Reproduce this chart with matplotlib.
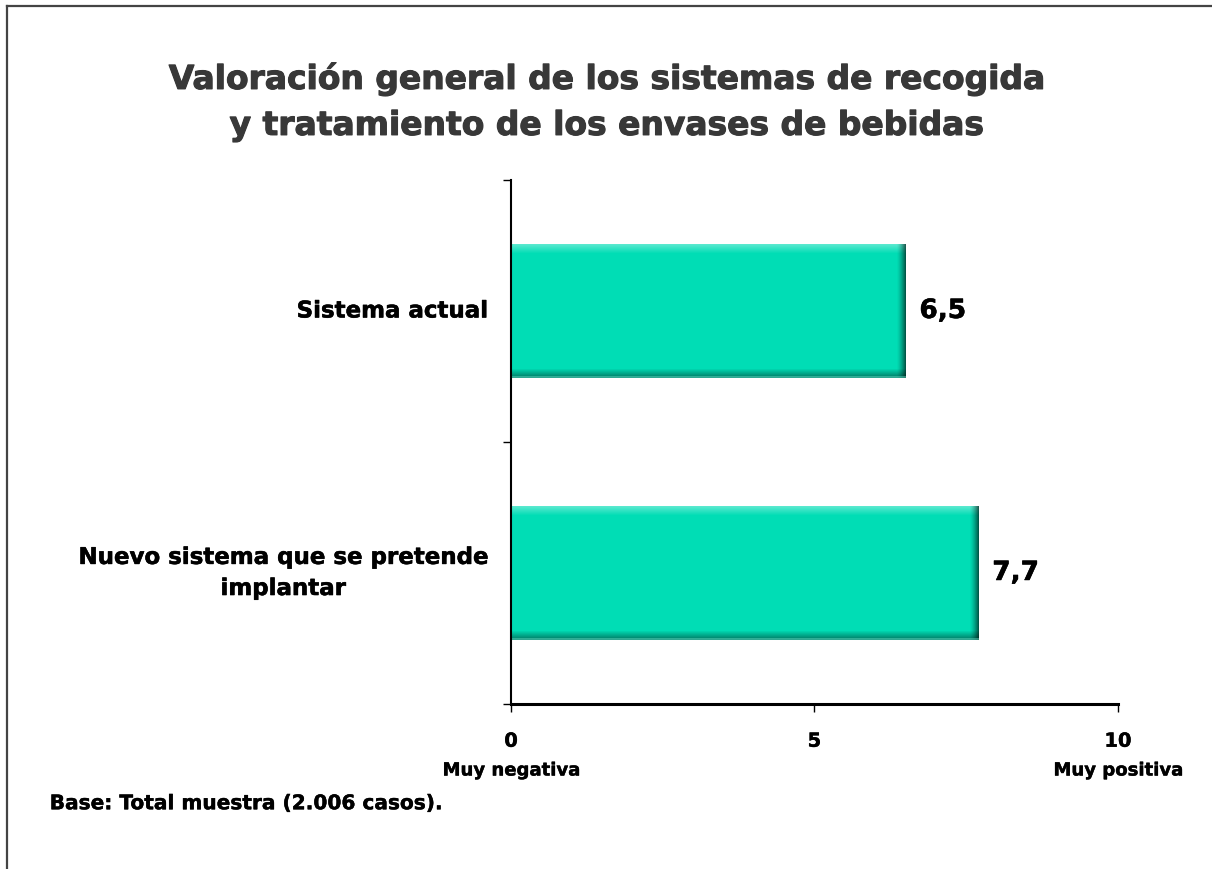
import numpy as np
import matplotlib
matplotlib.use("Agg")
import matplotlib.pyplot as plt
import matplotlib.patheffects as pe
from matplotlib.lines import Line2D
from matplotlib.colors import to_rgb

# data
categories = ["Sistema actual", "Nuevo sistema que se pretende\nimplantar"]
scores = [6.5, 7.7]
value_labels = ["6,5", "7,7"]
x_ticks = [0, 5, 10]
x_ends = ["Muy negativa", "Muy positiva"]

title = "Valoración general de los sistemas de recogida\ny tratamiento de los envases de bebidas"
note = "Base: Total muestra (2.006 casos)."

bar_color = "#00ddb5"
plt.rcParams["font.family"] = ["DejaVu Sans"]


def heavy(color="black", lw=0.4):
    return [pe.withStroke(linewidth=lw, foreground=color)]


def bevel_image(w_px, h_px, base):
    # simple bevel: light top edge, dark right/bottom edges
    base = np.array(to_rgb(base))
    img = np.ones((h_px, w_px, 3)) * base
    band = 9
    for i in range(band):
        k = 1 - i / band
        img[i, :] = img[i, :] * (1 - 0.35 * k) + 0.35 * k
    for i in range(band):
        k = (i + 1) / band
        img[h_px - band + i, :] *= (1 - 0.45 * k)
        img[:, w_px - band + i] *= (1 - 0.6 * k ** 1.5)
    img[-2:, :] = img[-2:, :] * 0.5 + np.array(to_rgb("#5fd8c0")) * 0.5
    return np.clip(img, 0, 1)


fig = plt.figure(figsize=(12.12, 8.7), dpi=100)
ax = fig.add_axes([0.4216, 0.1897, 0.5008, 0.6023])

ypos = np.arange(len(categories))[::-1]  # first category on top
bar_h = 0.51
bars = ax.barh(ypos, scores, height=bar_h, color=bar_color, zorder=2)

ax.set_xlim(0, 10)
ax.set_ylim(-0.5, len(categories) - 0.5)

# bevel overlay for each bar, sized from the bar patch itself
fig.canvas.draw()
for b in bars:
    x0, y0 = b.get_x(), b.get_y()
    w, h = b.get_width(), b.get_height()
    bb = b.get_window_extent()
    img = bevel_image(max(int(bb.width), 10), max(int(bb.height), 10), bar_color)
    ax.imshow(img, extent=(x0, x0 + w, y0, y0 + h), origin="upper",
              aspect="auto", zorder=3, interpolation="nearest")

ax.set_xlim(0, 10)
ax.set_ylim(-0.5, len(categories) - 0.5)

for y, v, lab in zip(ypos, scores, value_labels):
    ax.annotate(lab, (v, y), xytext=(10, 0), textcoords="offset points",
                ha="left", va="center", fontsize=19, fontweight="bold",
                path_effects=heavy())

# axes styling
for s in ["top", "right"]:
    ax.spines[s].set_visible(False)
ax.spines["left"].set_linewidth(1.5)
ax.spines["bottom"].set_linewidth(2.2)
ax.spines["left"].set_zorder(4)

ax.set_yticks(np.arange(-0.5, len(categories), 1.0))
ax.set_yticklabels([])
ax.tick_params(axis="y", length=6, width=1, direction="out")
ax.set_xticks(x_ticks)
ax.set_xticklabels([str(t) for t in x_ticks], fontsize=14, fontweight="bold")
for t in ax.get_xticklabels():
    t.set_path_effects(heavy(lw=0.3))
ax.tick_params(axis="x", length=6, width=1, direction="out", pad=14)

for y, cat in zip(ypos, categories):
    ax.annotate(cat, (0, y), xytext=(-17, 0), textcoords="offset points",
                ha="right", va="center", fontsize=16.5, fontweight="bold",
                multialignment="center", linespacing=1.45,
                path_effects=heavy())

for x, lab in zip([x_ticks[0], x_ticks[-1]], x_ends):
    ax.text(x, -0.127, lab, transform=ax.get_xaxis_transform(),
            ha="center", va="center", fontsize=13, fontweight="bold",
            path_effects=heavy(lw=0.3))

fig.text(0.5, 0.882, title, ha="center", va="center", fontsize=23.7,
         fontweight="bold", color="#383838", linespacing=1.5,
         path_effects=heavy("#383838", 0.8))
fig.text(0.041, 0.075, note, ha="left", va="center", fontsize=14.5,
         fontweight="bold", path_effects=heavy(lw=0.3))

# partial frame around the slide (top and left only)
fig.add_artist(Line2D([0.0055, 1.0], [0.9925, 0.9925], transform=fig.transFigure,
                      color="#444444", lw=1.6))
fig.add_artist(Line2D([0.0055, 0.0055], [0.0, 0.9925], transform=fig.transFigure,
                      color="#444444", lw=1.6))

fig.savefig("out.png", dpi=100)
